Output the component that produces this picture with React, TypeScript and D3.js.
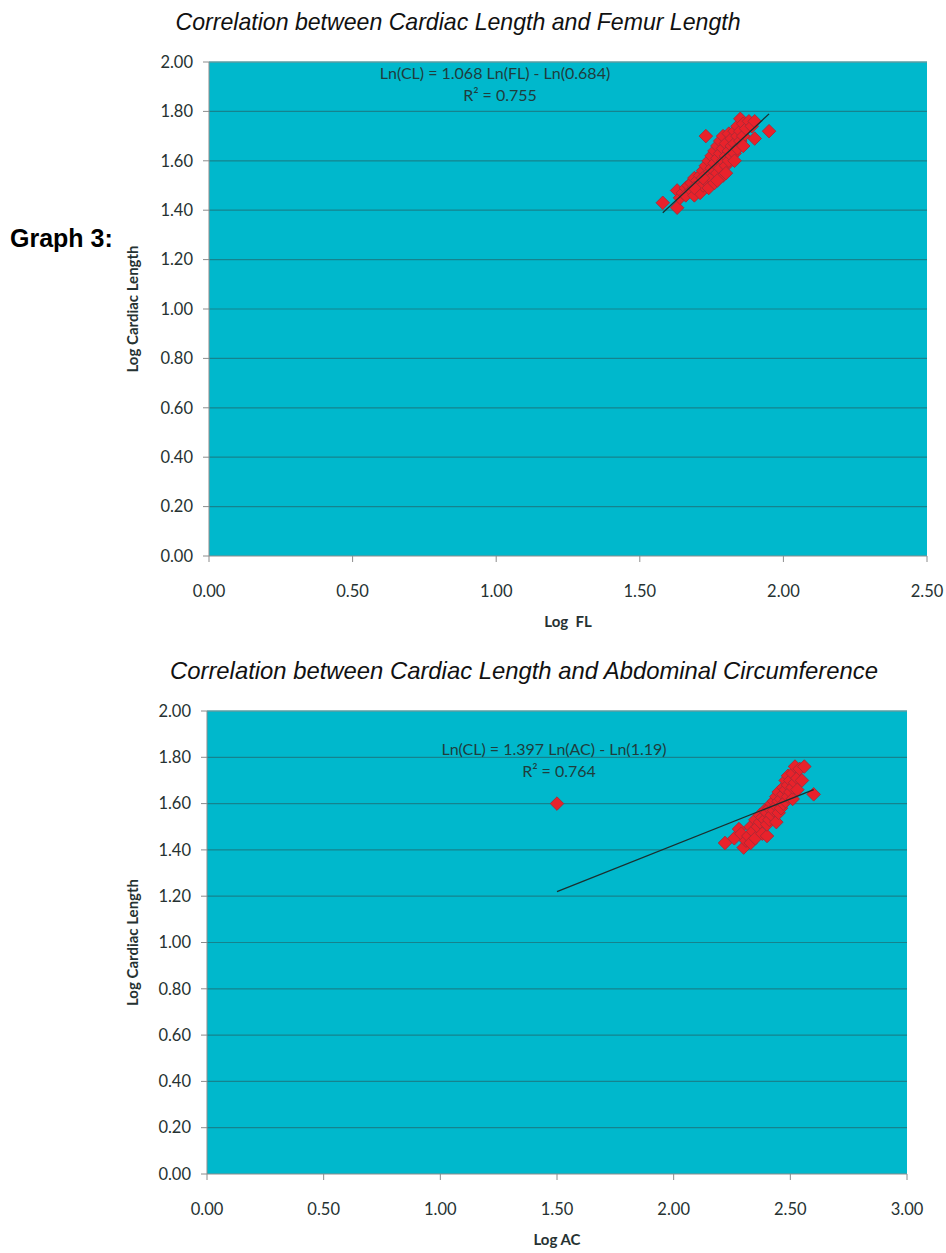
import React from 'react';
import * as d3 from 'd3';

type Pt = [number, number];

// Log FL vs Log Cardiac Length
const flPoints: Pt[] = [
  [1.58, 1.43], [1.63, 1.41], [1.63, 1.48], [1.64, 1.45], [1.65, 1.47], [1.66, 1.49],
  [1.66, 1.46], [1.67, 1.5], [1.68, 1.48], [1.68, 1.51], [1.69, 1.46], [1.69, 1.53],
  [1.7, 1.49], [1.7, 1.52], [1.71, 1.47], [1.71, 1.54], [1.72, 1.5], [1.72, 1.56],
  [1.73, 1.52], [1.73, 1.58], [1.73, 1.7], [1.74, 1.49], [1.74, 1.55], [1.74, 1.6],
  [1.75, 1.53], [1.75, 1.57], [1.75, 1.62], [1.76, 1.51], [1.76, 1.59], [1.76, 1.64],
  [1.77, 1.55], [1.77, 1.61], [1.77, 1.66], [1.78, 1.57], [1.78, 1.63], [1.78, 1.68],
  [1.79, 1.54], [1.79, 1.6], [1.79, 1.65], [1.79, 1.7], [1.8, 1.58], [1.8, 1.62],
  [1.8, 1.67], [1.81, 1.6], [1.81, 1.64], [1.81, 1.71], [1.82, 1.62], [1.82, 1.66],
  [1.82, 1.69], [1.83, 1.63], [1.83, 1.67], [1.83, 1.72], [1.84, 1.65], [1.84, 1.7],
  [1.84, 1.74], [1.85, 1.68], [1.85, 1.72], [1.85, 1.77], [1.86, 1.7], [1.86, 1.75],
  [1.87, 1.73], [1.88, 1.76], [1.89, 1.74], [1.9, 1.69], [1.9, 1.76], [1.95, 1.72],
  [1.72, 1.53], [1.77, 1.52], [1.8, 1.55], [1.83, 1.6], [1.69, 1.49], [1.86, 1.66],
];

// Log AC vs Log Cardiac Length
const acPoints: Pt[] = [
  [1.5, 1.6], [2.22, 1.43], [2.26, 1.45], [2.28, 1.49], [2.29, 1.47], [2.3, 1.41],
  [2.31, 1.44], [2.32, 1.46], [2.33, 1.43], [2.33, 1.5], [2.34, 1.48], [2.35, 1.53],
  [2.35, 1.45], [2.36, 1.5], [2.37, 1.55], [2.37, 1.52], [2.38, 1.47], [2.38, 1.54],
  [2.39, 1.53], [2.39, 1.57], [2.4, 1.46], [2.4, 1.51], [2.4, 1.56], [2.41, 1.58],
  [2.41, 1.53], [2.42, 1.6], [2.42, 1.55], [2.43, 1.57], [2.43, 1.61], [2.44, 1.52],
  [2.44, 1.59], [2.44, 1.63], [2.45, 1.56], [2.45, 1.61], [2.45, 1.65], [2.46, 1.58],
  [2.46, 1.62], [2.47, 1.6], [2.47, 1.64], [2.47, 1.67], [2.48, 1.61], [2.48, 1.66],
  [2.48, 1.7], [2.49, 1.63], [2.49, 1.68], [2.49, 1.72], [2.5, 1.65], [2.5, 1.7],
  [2.51, 1.62], [2.51, 1.67], [2.51, 1.73], [2.52, 1.69], [2.52, 1.76], [2.53, 1.71],
  [2.53, 1.66], [2.54, 1.75], [2.55, 1.7], [2.56, 1.76], [2.6, 1.64],
];

const flTrend: Pt[] = [[1.58, 1.39], [1.95, 1.79]];
const acTrend: Pt[] = [[1.5, 1.22], [2.6, 1.66]];

const yTicks = [0, 0.2, 0.4, 0.6, 0.8, 1.0, 1.2, 1.4, 1.6, 1.8, 2.0];
const flTicks = [0, 0.5, 1.0, 1.5, 2.0, 2.5];
const acTicks = [0, 0.5, 1.0, 1.5, 2.0, 2.5, 3.0];

const BG = '#00b8cc';
const GRID = '#15838e';
const AXIS = '#8c8c8c';
const TXT = '#263232';
const EQ = '#1f3d3d';
const tickFont = 'Lato, "Open Sans", sans-serif';
const titleFont = '"Liberation Sans Narrow", "Liberation Sans", Arial, sans-serif';

type ChartProps = {
  left: number;
  top: number;
  width: number;
  height: number;
  xMax: number;
  xTicks: number[];
  points: Pt[];
  trend: Pt[];
  title: string;
  titleLen: number;
  titleX: number;
  xLabel: string;
  eq: string[];
  eqX: number;
  eqY: number;
};

function Chart(p: ChartProps) {
  const x = d3.scaleLinear().domain([0, p.xMax]).range([p.left, p.left + p.width]);
  const y = d3.scaleLinear().domain([0, 2]).range([p.top + p.height, p.top]);
  const bottom = p.top + p.height;
  const diamond = d3.symbol(d3.symbolSquare, 92)();
  const line = d3.line<Pt>().x((d) => x(d[0])).y((d) => y(d[1]));

  return (
    <g>
      <text
        x={p.titleX}
        y={p.top - 32}
        textAnchor="middle"
        fontFamily={titleFont}
        fontStyle="italic"
        fontSize={24}
        textLength={p.titleLen}
        lengthAdjust="spacingAndGlyphs"
        fill="#111"
      >
        {p.title}
      </text>
      <rect x={p.left} y={p.top} width={p.width} height={p.height} fill={BG} />
      {yTicks.slice(1).map((t) => (
        <line key={t} x1={p.left} x2={p.left + p.width} y1={y(t)} y2={y(t)} stroke={GRID} strokeWidth={1.2} />
      ))}
      <line x1={p.left} x2={p.left + p.width} y1={p.top} y2={p.top} stroke="#7fa8ad" strokeWidth={1} />
      {/* y axis */}
      <line x1={p.left} x2={p.left} y1={p.top} y2={bottom} stroke={AXIS} />
      {yTicks.map((t) => (
        <g key={t}>
          <line x1={p.left - 6} x2={p.left} y1={y(t)} y2={y(t)} stroke={AXIS} />
          <text
            x={p.left - 16}
            y={y(t)}
            dy="0.35em"
            textAnchor="end"
            fontFamily={tickFont}
            fontSize={16.5}
            fill={TXT}
          >
            {t.toFixed(2)}
          </text>
        </g>
      ))}
      {/* x axis */}
      <line x1={p.left} x2={p.left + p.width} y1={bottom} y2={bottom} stroke={AXIS} />
      {p.xTicks.map((t) => (
        <g key={t}>
          <line x1={x(t)} x2={x(t)} y1={bottom} y2={bottom + 6} stroke={AXIS} />
          <text
            x={x(t)}
            y={bottom + 35}
            dy="0.35em"
            textAnchor="middle"
            fontFamily={tickFont}
            fontSize={16.5}
            fill={TXT}
          >
            {t.toFixed(2)}
          </text>
        </g>
      ))}
      <text
        x={p.left + p.width / 2}
        y={bottom + 66}
        dy="0.35em"
        textAnchor="middle"
        fontFamily={tickFont}
        fontWeight="bold"
        fontSize={15}
        fill={TXT}
        style={{ whiteSpace: 'pre' }}
      >
        {p.xLabel}
      </text>
      <text
        transform={`translate(133,${p.top + p.height / 2}) rotate(-90)`}
        dy="0.35em"
        textAnchor="middle"
        fontFamily={tickFont}
        fontWeight="bold"
        fontSize={15}
        fill={TXT}
      >
        Log Cardiac Length
      </text>
      {/* points */}
      {p.points.map((d, i) => (
        <path
          key={i}
          d={diamond}
          transform={`translate(${x(d[0])},${y(d[1])}) rotate(45)`}
          fill="#e8222b"
          stroke="#a52a36"
          strokeWidth={0.8}
        />
      ))}
      <path d={line(p.trend) ?? ''} fill="none" stroke="#1b2f2f" strokeWidth={1.3} />
      {/* equation */}
      <text x={p.eqX} y={p.eqY} dy="0.35em" textAnchor="middle" fontFamily={tickFont} fontSize={16} fill={EQ}>
        {p.eq[0]}
      </text>
      <text x={p.eqX + 5} y={p.eqY + 22} dy="0.35em" textAnchor="middle" fontFamily={tickFont} fontSize={16} fill={EQ}>
        {p.eq[1]}
      </text>
    </g>
  );
}

export default function App() {
  return (
    <svg width={946} height={1253} style={{ position: 'absolute', left: 0, top: 0, background: '#fff' }}>
      <text x={10} y={247} fontFamily='"Liberation Sans", Arial, sans-serif' fontWeight="bold" fontSize={25} fill="#000">
        Graph 3:
      </text>
      <Chart
        left={209}
        top={62}
        width={718}
        height={494}
        xMax={2.5}
        xTicks={flTicks}
        points={flPoints}
        trend={flTrend}
        title="Correlation between Cardiac Length and Femur Length"
        titleLen={565}
        titleX={458}
        xLabel="Log  FL"
        eq={['Ln(CL) = 1.068 Ln(FL) - Ln(0.684)', 'R² = 0.755']}
        eqX={495}
        eqY={73}
      />
      <Chart
        left={207}
        top={711}
        width={700}
        height={463}
        xMax={3}
        xTicks={acTicks}
        points={acPoints}
        trend={acTrend}
        title="Correlation between Cardiac Length and Abdominal Circumference"
        titleLen={708}
        titleX={524}
        xLabel="Log AC"
        eq={['Ln(CL) = 1.397 Ln(AC) - Ln(1.19)', 'R² = 0.764']}
        eqX={554}
        eqY={749}
      />
    </svg>
  );
}
